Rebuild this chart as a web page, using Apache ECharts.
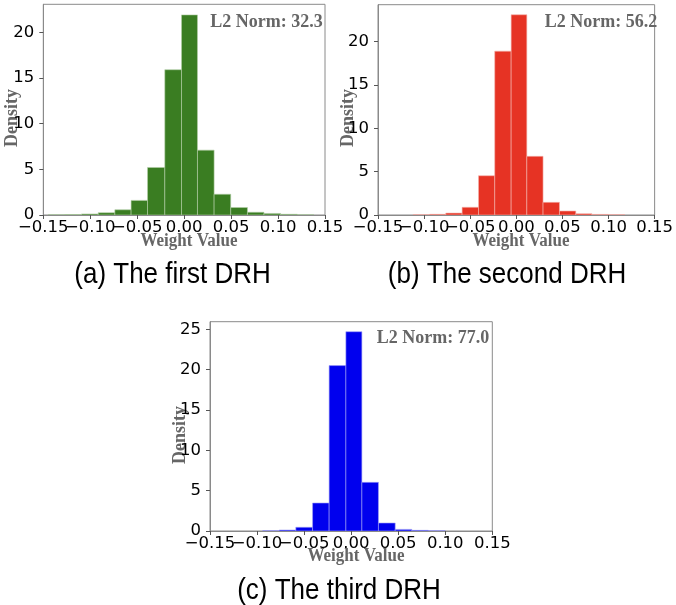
<!DOCTYPE html>
<html>
<head>
<meta charset="utf-8">
<script src="https://cdn.jsdelivr.net/npm/echarts@6/dist/echarts.min.js"></script>
<style>
html,body{margin:0;padding:0;background:#fff;}
#chart{width:676px;height:605px;}
</style>
</head>
<body>
<div id="chart"></div>
<script>
// ---- data ----
const xTickValues = [-0.15, -0.10, -0.05, 0.00, 0.05, 0.10, 0.15];
const yTickValues1 = [0, 5, 10, 15, 20];
const yTickValues3 = [0, 5, 10, 15, 20, 25];

const edges1 = [-0.1447, -0.127, -0.1093, -0.0915, -0.0738, -0.0565, -0.039, -0.0206, -0.0028, 0.0142, 0.0319, 0.0496, 0.0674, 0.085, 0.1028, 0.1206, 0.138];
const density1 = [0.02, 0.05, 0.12, 0.25, 0.57, 1.6, 5.2, 15.9, 21.9, 7.1, 2.27, 0.82, 0.3, 0.17, 0.08, 0.02];

const edges2 = [-0.112, -0.094, -0.0765, -0.0588, -0.041, -0.0234, -0.0056, 0.0114, 0.029, 0.0468, 0.0645, 0.082, 0.0999, 0.1176];
const density2 = [0.04, 0.08, 0.22, 0.89, 4.53, 18.9, 23.1, 6.77, 1.46, 0.46, 0.15, 0.07, 0.04];

const edges3 = [-0.094, -0.0765, -0.0588, -0.041, -0.0234, -0.0056, 0.0114, 0.029, 0.0468, 0.0645, 0.082, 0.0999];
const density3 = [0.04, 0.12, 0.46, 3.47, 20.5, 24.7, 6.03, 0.99, 0.2, 0.08, 0.02];

const yMax = [23.06, 24.26, 25.94];
const normLabels = ['L2 Norm: 32.3', 'L2 Norm: 56.2', 'L2 Norm: 77.0'];
const captions = ['(a) The first DRH', '(b) The second DRH', '(c) The third DRH'];
const xAxisTitle = 'Weight Value';
const yAxisTitle = 'Density';

// ---- build ----
function rows(edges, dens) {
  const out = [];
  for (let i = 0; i < dens.length; i++) out.push([edges[i], edges[i + 1], dens[i]]);
  return out;
}
const colors = ['#3a7d22', '#e63324', '#0000ee'];
const strokes = ['#b3cfa8', '#f4b3ac', '#a0a0f6'];
const grids = [
  {left: 43.3, top: 4.3, width: 281.7, height: 210.7},
  {left: 378, top: 4.7, width: 282.3, height: 210.3},
  {left: 210, top: 321.7, width: 282.3, height: 209.3}
];
const datasets = [rows(edges1, density1), rows(edges2, density2), rows(edges3, density3)];
const yTicks = [yTickValues1, yTickValues1, yTickValues3];
// labels split over two stacked axes so that touching labels are all kept
const xLabelsA = xTickValues.filter((v, k) => k % 2 === 0);
const xLabelsB = xTickValues.filter((v, k) => k % 2 === 1);

const spine = '#8a8a8a';
const labelGray = '#666666';
const fmtX = v => (v < -1e-9 ? '\u2212' : '') + Math.abs(v).toFixed(2);

function xAxisFor(i, labels, main) {
  return {
    type: 'value', gridIndex: i, position: 'bottom', min: -0.15, max: 0.15, interval: 0.05,
    splitLine: {show: false},
    axisLine: {show: main, onZero: false, lineStyle: {color: spine, width: 1}},
    axisTick: {show: main, length: 4, lineStyle: {color: '#555'}, customValues: xTickValues},
    axisLabel: {
      color: '#000', fontFamily: 'DejaVu Sans', fontSize: 16.5, margin: 4,
      customValues: labels, hideOverlap: false, showMinLabel: true, showMaxLabel: true,
      formatter: fmtX
    }
  };
}

const option = {
  animation: false,
  backgroundColor: '#ffffff',
  grid: grids.map(g => Object.assign({show: true, borderColor: spine, borderWidth: 1, backgroundColor: 'transparent'}, g)),
  xAxis: grids.map((g, i) => xAxisFor(i, xLabelsA, true)).concat(grids.map((g, i) => xAxisFor(i, xLabelsB, false))),
  yAxis: grids.map((g, i) => ({
    type: 'value', gridIndex: i, min: 0, max: yMax[i],
    splitLine: {show: false},
    axisLine: {show: true, onZero: false, lineStyle: {color: spine, width: 1}},
    axisTick: {show: true, length: 4, lineStyle: {color: '#555'}, customValues: yTicks[i]},
    axisLabel: {
      color: '#000', fontFamily: 'DejaVu Sans', fontSize: 16.5, margin: 9,
      customValues: yTicks[i], hideOverlap: false, showMinLabel: true
    }
  })),
  series: datasets.map((d, i) => ({
    type: 'custom', xAxisIndex: i, yAxisIndex: i, clip: true,
    data: d,
    encode: {x: [0, 1], y: 2},
    renderItem: function (params, api) {
      const p0 = api.coord([api.value(0), api.value(2)]);
      const p1 = api.coord([api.value(1), 0]);
      return {
        type: 'rect',
        shape: {x: p0[0], y: p0[1], width: p1[0] - p0[0], height: p1[1] - p0[1]},
        style: {fill: colors[i], stroke: strokes[i], lineWidth: 0.6}
      };
    }
  })),
  graphic: []
};

const serifBold = 'bold 18px "Liberation Serif", "Times New Roman", serif';
const normPos = [[322.7, 21.5], [657.3, 21.5], [489.3, 338.3]];
const xTitlePos = [[189, 241.5], [521, 241.5], [356, 556.5]];
const yTitlePos = [[12, 118], [348, 118], [180, 435]];
const capPos = [[172.5, 275], [507, 275], [339, 591]];
for (let i = 0; i < 3; i++) {
  option.graphic.push({
    type: 'text', x: normPos[i][0], y: normPos[i][1], scaleY: 1.1,
    style: {text: normLabels[i], font: serifBold, fill: labelGray, textAlign: 'right', textVerticalAlign: 'middle'}
  });
  option.graphic.push({
    type: 'text', x: xTitlePos[i][0], y: xTitlePos[i][1], scaleY: 1.1,
    style: {text: xAxisTitle, font: 'bold 17px "Liberation Serif", serif', fill: labelGray, textAlign: 'center', textVerticalAlign: 'middle'}
  });
  option.graphic.push({
    type: 'text', x: yTitlePos[i][0], y: yTitlePos[i][1], rotation: Math.PI / 2,
    style: {text: yAxisTitle, font: 'bold 18px "Liberation Serif", serif', fill: labelGray, textAlign: 'center', textVerticalAlign: 'middle'}
  });
  option.graphic.push({
    type: 'text', x: capPos[i][0], y: capPos[i][1], scaleY: 1.1,
    style: {text: captions[i], font: '26px "Liberation Sans", Arial, sans-serif', fill: '#000', textAlign: 'center', textVerticalAlign: 'middle'}
  });
}

const chart = echarts.init(document.getElementById('chart'), null, {renderer: 'canvas'});
chart.setOption(option);
</script>
</body>
</html>
